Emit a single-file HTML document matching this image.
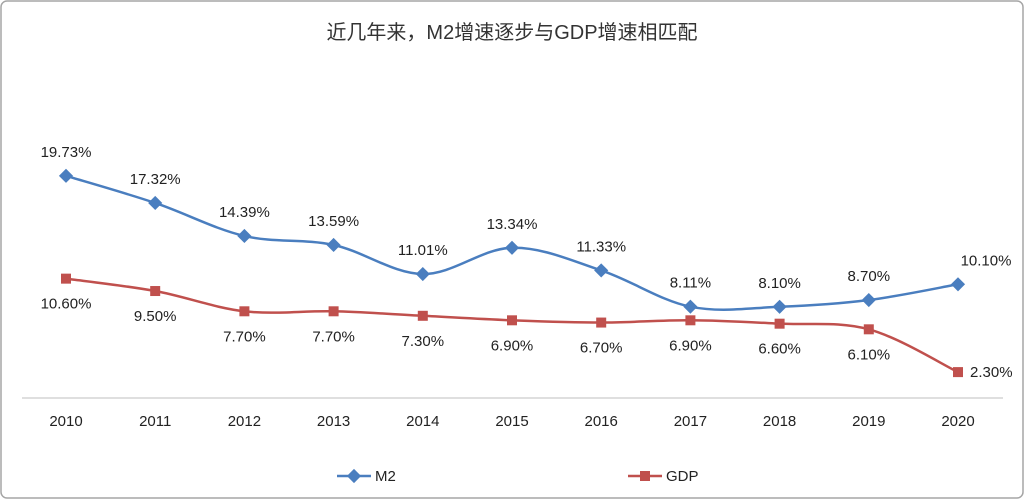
<!DOCTYPE html>
<html><head><meta charset="utf-8">
<style>
html,body{margin:0;padding:0;background:#fff;}
svg{display:block;font-family:"Liberation Sans","Noto Sans CJK SC",sans-serif;}
</style></head>
<body>
<svg id="chart" width="1025" height="500" viewBox="0 0 1025 500">
<rect x="1" y="1" width="1022" height="497" rx="6" fill="#fff" stroke="#a6a6a6" stroke-width="1.5"/>
<text x="512" y="39" text-anchor="middle" font-size="20" fill="#333" font-family="'Liberation Sans Narrow','Liberation Sans','Noto Sans CJK SC',sans-serif">近几年来，M2增速逐步与GDP增速相匹配</text>
<line x1="22" y1="398" x2="1003" y2="398" stroke="#bfbfbf" stroke-width="1"/>
<g id="ticks"></g>
<g id="series"></g>
<g>
<g>
<line x1="337" y1="476" x2="371" y2="476" stroke="#4a7ebf" stroke-width="2.5"/>
<rect x="349" y="471" width="10" height="10" fill="#4a7ebf" transform="rotate(45 354 476)"/>
<text x="375" y="481" font-size="15" fill="#222">M2</text>
</g>
<g>
<line x1="628" y1="476" x2="662" y2="476" stroke="#c0504d" stroke-width="2.5"/>
<rect x="640" y="471" width="10" height="10" fill="#c0504d"/>
<text x="666" y="481" font-size="15" fill="#222">GDP</text>
</g>
</g>
</svg>
<script>
const years = ["2010","2011","2012","2013","2014","2015","2016","2017","2018","2019","2020"];
const m2 = [19.73,17.32,14.39,13.59,11.01,13.34,11.33,8.11,8.10,8.70,10.10];
const gdp = [10.60,9.50,7.70,7.70,7.30,6.90,6.70,6.90,6.60,6.10,2.30];
const NS="http://www.w3.org/2000/svg";
function xs(i){return 66+i*89.2;}
function ys(v){return 398-v*11.26;}
function smooth(pts){
  let d="M"+pts[0][0]+","+pts[0][1];
  for(let i=0;i<pts.length-1;i++){
    const p0=pts[Math.max(i-1,0)],p1=pts[i],p2=pts[i+1],p3=pts[Math.min(i+2,pts.length-1)];
    const t=0.17;
    const c1=[p1[0]+(p2[0]-p0[0])*t,p1[1]+(p2[1]-p0[1])*t];
    const c2=[p2[0]-(p3[0]-p1[0])*t,p2[1]-(p3[1]-p1[1])*t];
    d+=" C"+c1+" "+c2+" "+p2;
  }
  return d;
}
const ticks=document.getElementById('ticks');
years.forEach((y,i)=>{
  const t=document.createElementNS(NS,'text');
  t.setAttribute('x',xs(i));t.setAttribute('y',426);t.setAttribute('text-anchor','middle');
  t.setAttribute('font-size','15');t.setAttribute('fill','#222');t.textContent=y;
  
  
  ticks.appendChild(t);
});
const g=document.getElementById('series');
function draw(vals,color,name,square,labelDy){
  const pts=vals.map((v,i)=>[xs(i),ys(v)]);
  const p=document.createElementNS(NS,'path');
  p.setAttribute('d',smooth(pts));p.setAttribute('fill','none');p.setAttribute('stroke',color);p.setAttribute('stroke-width','2.5');
  
  
  g.appendChild(p);
  pts.forEach((pt,i)=>{
    const r=document.createElementNS(NS,'rect');
    r.setAttribute('x',pt[0]-5);r.setAttribute('y',pt[1]-5);r.setAttribute('width',10);r.setAttribute('height',10);r.setAttribute('fill',color);
    if(!square) r.setAttribute('transform','rotate(45 '+pt[0]+' '+pt[1]+')');
    
    
    g.appendChild(r);
    const t=document.createElementNS(NS,'text');
    let lx=pt[0],ly=pt[1]+labelDy,anchor='middle';
    if(name==='gdp'&&i===vals.length-1){lx=pt[0]+12;ly=pt[1]+5;anchor='start';}
    if(name==='m2'&&i===vals.length-1){lx=pt[0]+28;}
    t.setAttribute('x',lx);t.setAttribute('y',ly);t.setAttribute('text-anchor',anchor);
    t.setAttribute('font-size','15');t.setAttribute('fill','#222');t.textContent=vals[i].toFixed(2)+'%';
    
    
    g.appendChild(t);
  });
}
draw(m2,'#4a7ebf','m2',false,-19);
draw(gdp,'#c0504d','gdp',true,30);
</script>
</body></html>
